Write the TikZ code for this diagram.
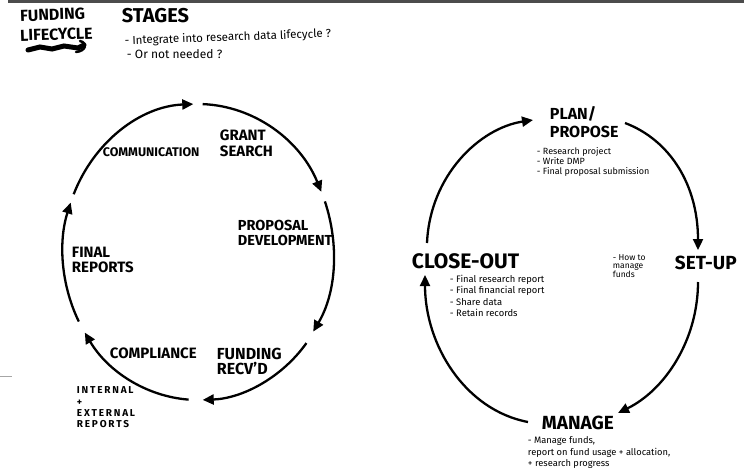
\documentclass[tikz,border=0pt]{standalone}
\usepackage{fontspec}
\setmainfont{Fira Sans}
\usetikzlibrary{arrows.meta}

\begin{document}
\begin{tikzpicture}[x=1pt,y=1pt,yscale=-1,xscale=1,
  flow/.style={line width=2.3pt,-{Triangle[length=11pt,width=10pt]}},
  stage/.style={anchor=north west,inner sep=0.75pt,font=\bfseries\fontsize{15}{15.5}\selectfont,align=left},
  bigstage/.style={anchor=north west,inner sep=0.75pt,font=\bfseries\fontsize{17}{19}\selectfont,align=left},
  jot/.style={anchor=north west,inner sep=0.75pt,font=\fontsize{9.4}{11.5}\selectfont,align=left}]
\useasboundingbox (0,0) rectangle (744,472);
%Scan edges
\fill [black!70] (8,0) rectangle (744,2.5);
\draw [black!35,line width=0.8pt] (0,376) -- (12,376);

%Title
\draw (19,9) node (fund) [bigstage,font=\bfseries\fontsize{16}{16}\selectfont,rotate=2] {FUNDING};
\draw (19,29) node (life) [bigstage,font=\bfseries\fontsize{16}{16}\selectfont,rotate=2] {LIFECYCLE};
\draw (121,7) node (stages) [bigstage,font=\bfseries\fontsize{20}{20}\selectfont] {STAGES};
%Scribble
\draw [line width=5pt,line cap=round] (28,50) -- (40,47) -- (52,49) -- (64,46) -- (78,48) -- (84,45);
\draw [line width=2.5pt,line cap=round] (80,41) .. controls (88,43) and (86,51) .. (76,52);
% Text Node
\draw (124,48) node (q1) [jot,anchor=south west,font=\fontsize{11.5}{12}\selectfont,rotate=2] {- Integrate into research data lifecycle ?};
\draw (126,49) node (q2) [jot,font=\fontsize{12}{12}\selectfont] {- Or not needed ?};

%Left cycle: arc end points
\coordinate (l1s) at (73.7,194.2);
\coordinate (l1e) at (193.3,104.1);
\coordinate (l2s) at (202.7,104.1);
\coordinate (l2e) at (321.3,191.8);
\coordinate (l3s) at (324.9,201.4);
\coordinate (l3e) at (313.2,331.6);
\coordinate (l4s) at (306.4,343.1);
\coordinate (l4e) at (202.7,399.9);
\coordinate (l5s) at (188.6,399.6);
\coordinate (l5e) at (84.8,332.6);
\coordinate (l6s) at (78.8,321.5);
\coordinate (l6e) at (70.7,202.6);
%Curve Lines
\draw [flow] (l1s) .. controls (94.2,141.3) and (140.9,106.1) .. (l1e);
\draw [flow] (l2s) .. controls (254.3,106.1) and (300.3,140.1) .. (l2e);
\draw [flow] (l3s) .. controls (339.4,245.1) and (336.3,292.6) .. (l3e);
\draw [flow] (l4s) .. controls (281.8,377.6) and (242.6,398.4) .. (l4e);
\draw [flow] (l5s) .. controls (146.3,396.4) and (107.9,371.6) .. (l5e);
\draw [flow] (l6s) .. controls (61.0,284.9) and (58.1,241.7) .. (l6e);
% Text Node
\draw (102,147) node (comm) [stage,font=\bfseries\fontsize{12.5}{13}\selectfont] {COMMUNICATION};
\draw (219,129) node (grant) [stage] {GRANT\\SEARCH};
\draw (237,219) node (propdev) [stage,font=\bfseries\fontsize{14.5}{15.5}\selectfont] {PROPOSAL\\DEVELOPMENT};
\draw (71,246) node (finrep) [stage] {FINAL\\REPORTS};
\draw (109,347) node (compl) [stage] {COMPLIANCE};
\draw (216,347) node (recvd) [stage,font=\bfseries\fontsize{16}{15.5}\selectfont] {FUNDING\\RECV'D};
\draw (76,386) node (intext) [stage,font=\bfseries\fontsize{10}{11.3}\selectfont\addfontfeature{LetterSpace=18}] {INTERNAL\\+\\EXTERNAL\\REPORTS};

%Right cycle: arc end points
\coordinate (r1s) at (427,243);
\coordinate (r1e) at (533,120);
\coordinate (r2s) at (625,123);
\coordinate (r2e) at (698,250);
\coordinate (r3s) at (698,282);
\coordinate (r3e) at (618,413);
\coordinate (r4s) at (528,422);
\coordinate (r4e) at (425,275);
%Curve Lines
\draw [flow] (r1s) .. controls (430,175) and (480,128) .. (r1e);
\draw [flow] (r2s) .. controls (670,140) and (698,185) .. (r2e);
\draw [flow] (r3s) .. controls (698,340) and (665,390) .. (r3e);
\draw [flow] (r4s) .. controls (465,410) and (425,345) .. (r4e);
% Text Node
\draw (549,105) node (plan) [bigstage,font=\bfseries\fontsize{16}{18}\selectfont] {PLAN/\\PROPOSE};
\draw (536,147) node (planjot) [jot,font=\fontsize{9}{10}\selectfont] {- Research project\\- Write DMP\\- Final proposal submission};
\draw (674,255) node (setup) [bigstage,font=\bfseries\fontsize{19}{19}\selectfont] {SET-UP};
\draw (612,254) node (setupjot) [jot,font=\fontsize{8.5}{8}\selectfont] {- How to\\manage\\funds};
\draw (411,253) node (close) [bigstage,font=\bfseries\fontsize{21}{21}\selectfont] {CLOSE-OUT};
\draw (449,274) node (closejot) [jot] {- Final research report\\- Final financial report\\- Share data\\- Retain records};
\draw (541,415) node (manage) [bigstage,font=\bfseries\fontsize{19}{19}\selectfont] {MANAGE};
\draw (527,436) node (managejot) [jot,font=\fontsize{9.3}{11.5}\selectfont] {- Manage funds,\\report on fund usage + allocation,\\+ research progress};
\end{tikzpicture}
\end{document}
